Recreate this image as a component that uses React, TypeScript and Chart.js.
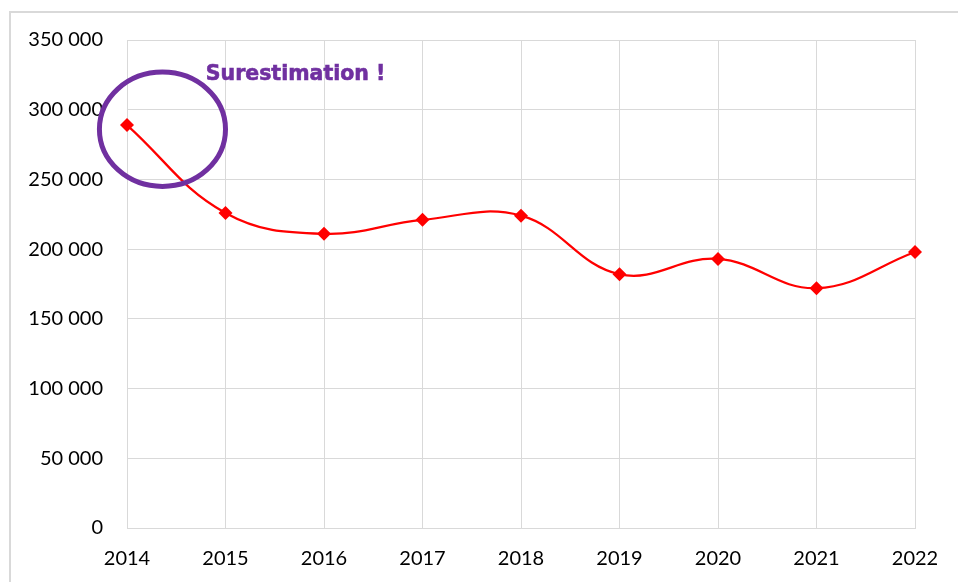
import React, { useEffect, useRef } from "react";
import { Chart, registerables } from "chart.js";

Chart.register(...registerables);

const years = ["2014", "2015", "2016", "2017", "2018", "2019", "2020", "2021", "2022"];
const values = [289000, 226000, 211000, 221000, 224000, 182000, 193000, 172000, 198000];
const yMin = 0;
const yMax = 350000;
const yStep = 50000;
const annotationText = "Surestimation !";

const fmt = (v: number) => {
  const s = Math.round(v).toString();
  return s.replace(/\B(?=(\d{3})+(?!\d))/g, " ");
};

const annotationPlugin = {
  id: "surestimation",
  afterDatasetsDraw(chart: any) {
    const { ctx, scales } = chart;
    const x0 = scales.x.getPixelForValue(0);
    const x1 = scales.x.getPixelForValue(1);
    const step = x1 - x0;
    const cx = x0 + step * 0.36;
    const cy = scales.y.getPixelForValue(286000);
    const ry = scales.y.getPixelForValue(0) - scales.y.getPixelForValue(41000);
    const rx = step * 0.64;
    ctx.save();
    ctx.strokeStyle = "#7030A0";
    ctx.lineWidth = 5;
    ctx.beginPath();
    ctx.ellipse(cx, cy, rx, ry, 0, 0, Math.PI * 2);
    ctx.stroke();
    ctx.fillStyle = "#7030A0";
    ctx.strokeStyle = "#7030A0";
    ctx.lineWidth = 0.6;
    ctx.font = "bold 20.5px 'DejaVu Sans'";
    ctx.textBaseline = "middle";
    ctx.textAlign = "left";
    const tx = x0 + step * 0.8;
    const ty = scales.y.getPixelForValue(325000);
    ctx.fillText(annotationText, tx, ty);
    ctx.strokeText(annotationText, tx, ty);
    ctx.restore();
  },
};

export default function App() {
  const ref = useRef<HTMLCanvasElement | null>(null);
  useEffect(() => {
    if (!ref.current) return;
    const chart = new Chart(ref.current, {
      type: "line",
      data: {
        labels: years,
        datasets: [
          {
            data: values,
            borderColor: "#FF0000",
            backgroundColor: "#FF0000",
            borderWidth: 2.25,
            tension: 0.4,
            pointStyle: "rectRot",
            pointRadius: 7,
            pointHoverRadius: 7,
            pointBorderWidth: 0,
          },
        ],
      },
      options: {
        animation: false,
        responsive: false,
        maintainAspectRatio: false,
        layout: { padding: { left: 0, right: 43, top: 40, bottom: 0 } },
        plugins: { legend: { display: false }, tooltip: { enabled: false }, title: { display: false } },
        scales: {
          x: {
            offset: false,
            grid: { color: "#d9d9d9", lineWidth: 1, drawTicks: false },
            border: { color: "#d9d9d9", width: 1 },
            ticks: { color: "#000", font: { family: "Lato", size: 20 }, padding: 19, maxRotation: 0 },
            afterFit(scale: any) {
              scale.height = 54;
            },
          },
          y: {
            min: yMin,
            max: yMax,
            grid: { color: "#d9d9d9", lineWidth: 1, drawTicks: false },
            border: { color: "#d9d9d9", width: 1 },
            ticks: {
              stepSize: yStep,
              color: "#000",
              font: { family: "Lato", size: 20 },
              padding: 24,
              callback: (v: any) => fmt(Number(v)),
            },
            afterFit(scale: any) {
              scale.width = 127;
            },
          },
        },
      },
      plugins: [annotationPlugin],
    });
    return () => chart.destroy();
  }, []);

  return (
    <div style={{ position: "fixed", left: 0, top: 0, width: 958, height: 582, background: "#fff", overflow: "hidden" }}>
      <div
        style={{
          position: "absolute",
          left: 9,
          top: 11,
          width: 1000,
          height: 700,
          borderLeft: "2px solid #d9d9d9",
          borderTop: "2px solid #d9d9d9",
        }}
      />
      <canvas ref={ref} width={958} height={582} style={{ position: "absolute", left: 0, top: 0 }} />
    </div>
  );
}
